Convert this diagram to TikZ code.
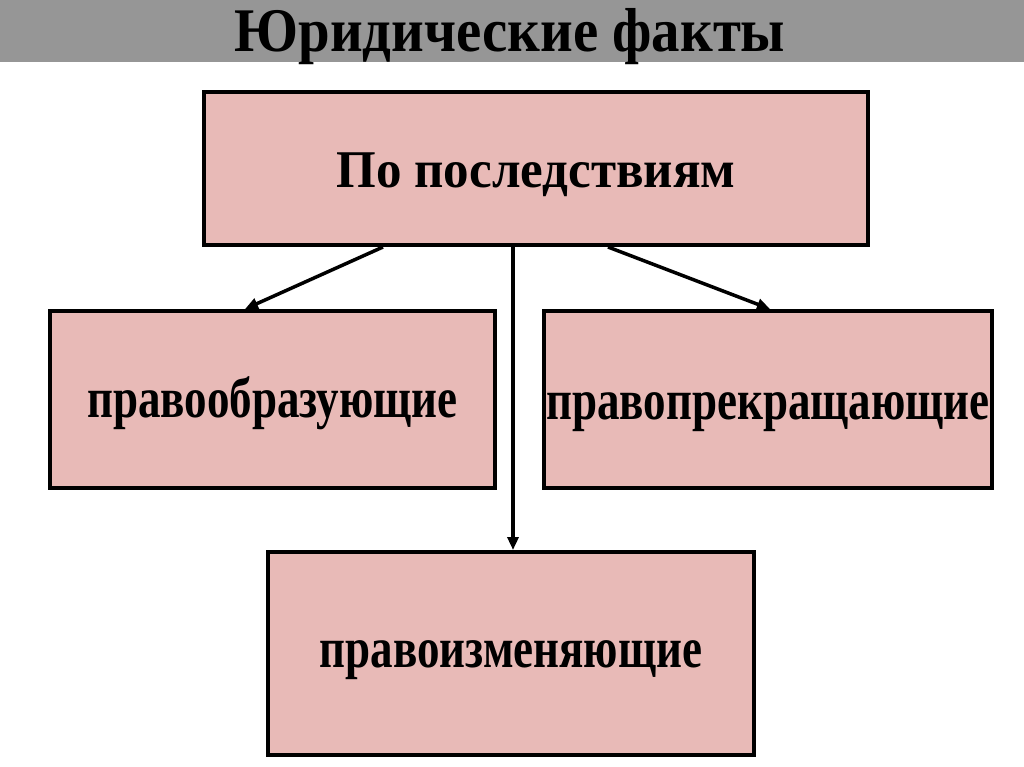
\documentclass[tikz,border=0pt]{standalone}
\usepackage{graphicx}
\usepackage{fontspec}
\setmainfont{Liberation Serif}
\usetikzlibrary{arrows.meta}

\definecolor{boxpink}{RGB}{232,186,183}
\definecolor{bandgray}{RGB}{150,150,150}
\newcommand{\boxtext}[1]{\scalebox{1}[1.27]{#1}}

\begin{document}
\begin{tikzpicture}[x=1pt, y=-1pt, >={Triangle[length=13pt,width=11pt]},
  main/.style = {draw, line width=4pt, rectangle, fill=boxpink, inner sep=0pt,
    text depth=0pt, font=\fontsize{45}{50}\selectfont\bfseries},
  link/.style = {->, line width=3.5pt}]

\useasboundingbox (0,0) rectangle (1024,767);
\fill[bandgray] (0,0) rectangle (1024,62);
\node[anchor=base, inner sep=0pt, font=\fontsize{58}{64}\selectfont\bfseries] (title) at (510,52)
  {\scalebox{0.98}[1.07]{Юридические факты}};

\node[main, minimum width=664pt, minimum height=153pt, text height=39pt,
  font=\fontsize{51}{56}\selectfont\bfseries] (conseq) at (536,168.5)
  {\scalebox{1}[1.04]{По последствиям}};
\node[main, minimum width=445pt, minimum height=177pt, text height=35pt] (create) at (272.5,399.5)
  {\boxtext{правообразующие}};
\node[main, minimum width=448pt, minimum height=177pt, text height=39pt] (stop) at (768,399.5)
  {\boxtext{правопрекращающие}};
\node[main, minimum width=486pt, minimum height=203pt, text height=27pt] (change) at (511,653.5)
  {\boxtext{правоизменяющие}};

\draw[link] ([xshift=-153pt]conseq.south) -- ([xshift=-27.5pt]create.north);
\draw[link] ([xshift=-23pt]conseq.south) -- ([xshift=2pt]change.north);
\draw[link] ([xshift=72pt]conseq.south) -- ([xshift=2pt]stop.north);

\end{tikzpicture}
\end{document}
